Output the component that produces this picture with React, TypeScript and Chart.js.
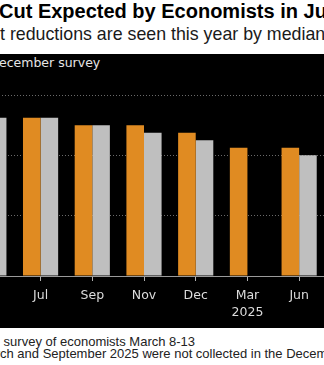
import React, { useEffect, useRef } from "react";
import { Chart, registerables } from "chart.js";

Chart.register(...registerables);

const categories: (string | string[])[] = ["Jun", "Jul", "Sep", "Nov", "Dec", ["Mar", "2025"], "Jun"];
const marchSurvey: (number | null)[] = [5.25, 5.25, 5.0, 5.0, 4.75, 4.25, 4.25];
const decemberSurvey: (number | null)[] = [5.25, 5.25, 5.0, 4.75, 4.5, null, 4.0];
const yTicks = [0, 2, 4, 6];

const ORANGE = "#e08b22";
const GRAY = "#bfbfbf";

const sans = "'Liberation Sans', Arial, sans-serif";
const deja = "'DejaVu Sans', sans-serif";

export default function App() {
  const ref = useRef<HTMLCanvasElement>(null);

  useEffect(() => {
    const chart = new Chart(ref.current as HTMLCanvasElement, {
      type: "bar",
      data: {
        labels: categories,
        datasets: [
          {
            label: "March survey",
            data: marchSurvey,
            backgroundColor: ORANGE,
            categoryPercentage: 0.68,
            barPercentage: 1,
          },
          {
            label: "December survey",
            data: decemberSurvey,
            backgroundColor: GRAY,
            categoryPercentage: 0.68,
            barPercentage: 1,
          },
        ],
      },
      options: {
        responsive: false,
        animation: false,
        layout: { padding: 0 },
        plugins: { legend: { display: false }, tooltip: { enabled: false } },
        scales: {
          x: {
            grid: { drawOnChartArea: false, offset: false, tickLength: 5, color: "#b0b0b0" },
            border: { color: "#9a9a9a" },
            ticks: {
              color: "#dcdcdc",
              font: { family: "'DejaVu Sans', sans-serif", size: 12.5, lineHeight: 1.35 },
              padding: 6,
              autoSkip: false,
              maxRotation: 0,
            },
            afterFit: (s: any) => {
              s.height = 52;
            },
          },
          y: {
            min: 0,
            max: 6,
            afterBuildTicks: (s: any) => {
              s.ticks = yTicks.map((v) => ({ value: v }));
            },
            afterFit: (s: any) => {
              s.width = 0;
            },
            ticks: { display: false },
            border: { display: false, dash: [1, 2] },
            grid: {
              drawTicks: false,
              color: (ctx: any) => (ctx.tick && ctx.tick.value === 0 ? "rgba(0,0,0,0)" : "#6a6a6a"),
            },
          },
        },
      },
    } as any);
    return () => chart.destroy();
  }, []);

  const abs = (o: React.CSSProperties): React.CSSProperties => ({ position: "absolute", whiteSpace: "nowrap", ...o });
  const prefix: React.CSSProperties = { position: "absolute", right: "100%", top: 0, whiteSpace: "pre" };

  return (
    <div style={{ position: "fixed", left: 0, top: 0, width: 324, height: 365, overflow: "hidden", background: "#fff" }}>
      <div style={abs({ left: -1, top: 1, fontFamily: sans, fontWeight: 700, fontSize: 20, lineHeight: "20px", color: "#000" })}>
        <span style={prefix}>First Fed Rate </span>Cut Expected by Economists in June
      </div>
      <div style={abs({ left: 0, top: 25.5, fontFamily: sans, fontSize: 17.8, lineHeight: "17.8px", color: "#1a1a1a" })}>
        <span style={prefix}>Three quarter-poin</span>t reductions are seen this year by median estimate
      </div>
      <div style={abs({ left: 0, top: 54, width: 324, height: 274, background: "#000" })} />
      <div style={abs({ left: -1, top: 56.5, fontFamily: deja, fontSize: 12.5, lineHeight: "12.5px", color: "#e6e6e6" })}>
        <span style={prefix}>
          <span style={{ display: "inline-block", width: 10, height: 10, background: ORANGE, marginRight: 5 }} />
          {"March survey   "}
          <span style={{ display: "inline-block", width: 10, height: 10, background: GRAY, marginRight: 5 }} />
          {"D"}
        </span>
        ecember survey
      </div>
      <canvas ref={ref} width={362} height={233} style={{ position: "absolute", left: -37, top: 95, width: 362, height: 233 }} />
      <div style={abs({ left: 0, top: 335.5, fontFamily: sans, fontSize: 13, lineHeight: "12px", color: "#222" })}>
        <span style={prefix}>Source: Bloomberg</span>
        <span style={{ whiteSpace: "pre" }}>{" survey of economists March 8-13"}</span>
      </div>
      <div style={abs({ left: 0, top: 347.5, fontFamily: sans, fontSize: 13, lineHeight: "12px", color: "#222" })}>
        <span style={prefix}>Note: Forecasts for Mar</span>ch and September 2025 were not collected in the December survey
      </div>
    </div>
  );
}
